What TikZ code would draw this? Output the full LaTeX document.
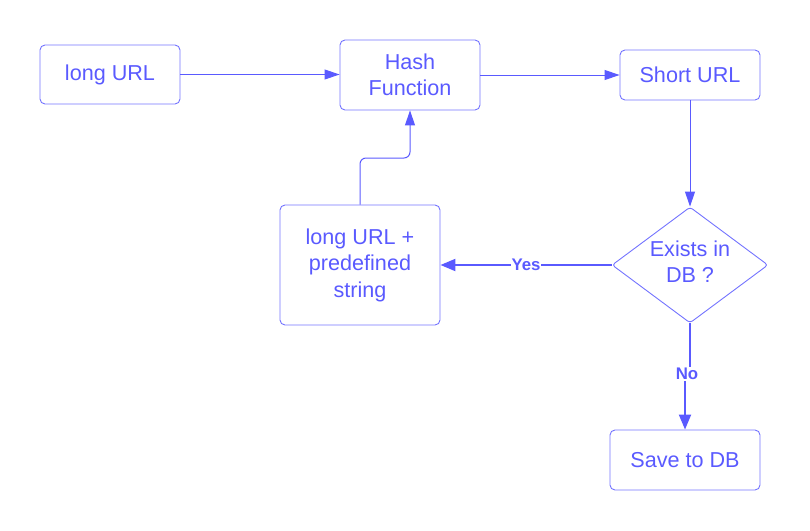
\documentclass[tikz,border=0pt]{standalone}
\usepackage{fontspec}
\setmainfont{Liberation Sans}
\usetikzlibrary{shapes.geometric,arrows.meta}
\definecolor{ink}{RGB}{90,90,255}
\definecolor{edge}{RGB}{115,115,255}
\begin{document}
\begin{tikzpicture}[x=1pt,y=-1pt,
  box/.style={draw=edge,line width=0.9pt,rounded corners=5pt,text=ink,
    font=\fontsize{21.6}{26.5}\selectfont,align=center,inner sep=0pt},
  dec/.style={draw=edge,line width=0.9pt,shape=diamond,rounded corners=3pt,
    inner sep=0pt,minimum width=156pt,minimum height=116pt},
  dectext/.style={text=ink,font=\fontsize{21.6}{26.5}\selectfont,align=center,inner sep=0pt},
  thin/.style={draw=ink,line width=1pt,-{Triangle[length=15pt,width=10pt]}},
  thick/.style={draw=ink,line width=2pt},
  lbl/.style={fill=white,text=ink,font=\bfseries\fontsize{16.8}{18}\selectfont,inner sep=1pt}]
\useasboundingbox (0,0) rectangle (810,530);
\node[box,minimum width=140pt,minimum height=59pt] (lu) at (110,74.5) {long URL};
\node[box,minimum width=140pt,minimum height=70pt] (hf) at (410,75) {Hash\\Function};
\node[box,minimum width=140pt,minimum height=50pt] (su) at (690,75) {Short URL};
\node[box,minimum width=160pt,minimum height=120pt] (ps) at (360,265) {long URL +\\predefined\\string};
\node[dec] (ex) at (690,265) {};
\node[dectext] (ext) at (690,261.5) {Exists in\\DB ?};
\node[box,minimum width=150pt,minimum height=60pt] (sd) at (685,460) {Save to DB};
\coordinate (j1) at (685,374);
\draw[thin] (lu.east) -- (hf.west |- lu.east);
\draw[thin] (hf.east) -- (su.west);
\draw[thin] (su.south) -- (ex.north);
\draw[thin,rounded corners=6pt] (ps.north) -- (360,158) -- (410,158) -- (hf.south);
\draw[thick,-{Triangle[length=15pt,width=12pt]}] (ex.west) -- node[lbl,pos=0.5]{Yes} (ps.east);
\draw[thick] (ex.south) -- (690,374) -- (j1);
\draw[thick,-{Triangle[length=15pt,width=12pt]}] (j1) -- (sd.north);
\node[lbl] (no) at (687,374) {No};
\end{tikzpicture}
\end{document}
